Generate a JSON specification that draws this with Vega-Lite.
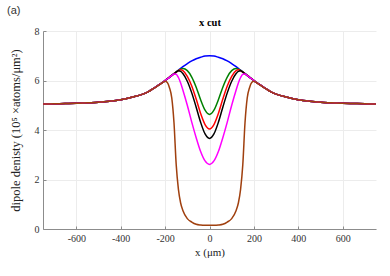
{
  "$schema": "https://vega.github.io/schema/vega-lite/v6.json",
  "width": 333,
  "height": 198,
  "autosize": {"type": "none"},
  "padding": {"left": 43, "top": 31, "right": 14, "bottom": 47},
  "background": "white",
  "title": {"text": "(a)", "anchor": "start", "frame": "group", "dx": -36, "offset": 1, "font": "Liberation Sans", "fontSize": 11, "fontWeight": "normal", "color": "#333333"},
  "config": {
    "view": {"stroke": null},
    "axis": {"labelFont": "Liberation Serif", "titleFont": "Liberation Serif", "labelFontSize": 10, "labelColor": "#333333", "titleColor": "#222222", "domainColor": "#8c8c8c", "tickColor": "#8c8c8c", "gridColor": "#ececec", "gridWidth": 1}
  },
  "data": {"values": [
    {"x": -750, "blue": 5.05, "green": 5.05, "red": 5.05, "black": 5.05, "magenta": 5.05, "brown": 5.05},
    {"x": -700, "blue": 5.06, "green": 5.06, "red": 5.06, "black": 5.06, "magenta": 5.06, "brown": 5.06},
    {"x": -650, "blue": 5.07, "green": 5.07, "red": 5.07, "black": 5.07, "magenta": 5.07, "brown": 5.07},
    {"x": -600, "blue": 5.08, "green": 5.08, "red": 5.08, "black": 5.08, "magenta": 5.08, "brown": 5.08},
    {"x": -550, "blue": 5.10, "green": 5.10, "red": 5.10, "black": 5.10, "magenta": 5.10, "brown": 5.10},
    {"x": -500, "blue": 5.12, "green": 5.12, "red": 5.12, "black": 5.12, "magenta": 5.12, "brown": 5.12},
    {"x": -450, "blue": 5.16, "green": 5.16, "red": 5.16, "black": 5.16, "magenta": 5.16, "brown": 5.16},
    {"x": -400, "blue": 5.22, "green": 5.22, "red": 5.22, "black": 5.22, "magenta": 5.22, "brown": 5.22},
    {"x": -350, "blue": 5.32, "green": 5.32, "red": 5.32, "black": 5.32, "magenta": 5.32, "brown": 5.32},
    {"x": -300, "blue": 5.45, "green": 5.45, "red": 5.45, "black": 5.45, "magenta": 5.45, "brown": 5.45},
    {"x": -275, "blue": 5.55, "green": 5.55, "red": 5.55, "black": 5.55, "magenta": 5.55, "brown": 5.55},
    {"x": -250, "blue": 5.69, "green": 5.69, "red": 5.69, "black": 5.69, "magenta": 5.69, "brown": 5.69},
    {"x": -225, "blue": 5.84, "green": 5.84, "red": 5.84, "black": 5.84, "magenta": 5.84, "brown": 5.83},
    {"x": -210, "blue": 5.93, "green": 5.93, "red": 5.93, "black": 5.93, "magenta": 5.93, "brown": 5.92},
    {"x": -200, "blue": 6.00, "green": 6.00, "red": 6.00, "black": 6.00, "magenta": 6.00, "brown": 5.97},
    {"x": -190, "blue": 6.07, "green": 6.07, "red": 6.07, "black": 6.07, "magenta": 6.07, "brown": 5.92},
    {"x": -180, "blue": 6.14, "green": 6.14, "red": 6.14, "black": 6.13, "magenta": 6.13, "brown": 5.70},
    {"x": -170, "blue": 6.21, "green": 6.21, "red": 6.21, "black": 6.20, "magenta": 6.20, "brown": 5.30},
    {"x": -160, "blue": 6.28, "green": 6.28, "red": 6.27, "black": 6.27, "magenta": 6.26, "brown": 4.30},
    {"x": -150, "blue": 6.35, "green": 6.35, "red": 6.34, "black": 6.34, "magenta": 6.25, "brown": 2.60},
    {"x": -140, "blue": 6.42, "green": 6.41, "red": 6.40, "black": 6.39, "magenta": 6.12, "brown": 1.60},
    {"x": -130, "blue": 6.49, "green": 6.46, "red": 6.43, "black": 6.37, "magenta": 5.90, "brown": 1.05},
    {"x": -120, "blue": 6.56, "green": 6.48, "red": 6.40, "black": 6.28, "magenta": 5.62, "brown": 0.75},
    {"x": -100, "blue": 6.68, "green": 6.40, "red": 6.17, "black": 5.97, "magenta": 5.00, "brown": 0.42},
    {"x": -80, "blue": 6.79, "green": 6.14, "red": 5.78, "black": 5.50, "magenta": 4.32, "brown": 0.28},
    {"x": -60, "blue": 6.88, "green": 5.73, "red": 5.25, "black": 4.92, "magenta": 3.69, "brown": 0.19},
    {"x": -40, "blue": 6.94, "green": 5.22, "red": 4.67, "black": 4.31, "magenta": 3.13, "brown": 0.16},
    {"x": -20, "blue": 6.99, "green": 4.80, "red": 4.22, "black": 3.84, "magenta": 2.75, "brown": 0.15},
    {"x": 0, "blue": 7.00, "green": 4.63, "red": 4.04, "black": 3.66, "magenta": 2.61, "brown": 0.15},
    {"x": 20, "blue": 6.99, "green": 4.80, "red": 4.22, "black": 3.84, "magenta": 2.75, "brown": 0.15},
    {"x": 40, "blue": 6.94, "green": 5.22, "red": 4.67, "black": 4.31, "magenta": 3.13, "brown": 0.16},
    {"x": 60, "blue": 6.88, "green": 5.73, "red": 5.25, "black": 4.92, "magenta": 3.69, "brown": 0.19},
    {"x": 80, "blue": 6.79, "green": 6.14, "red": 5.78, "black": 5.50, "magenta": 4.32, "brown": 0.28},
    {"x": 100, "blue": 6.68, "green": 6.40, "red": 6.17, "black": 5.97, "magenta": 5.00, "brown": 0.42},
    {"x": 120, "blue": 6.56, "green": 6.48, "red": 6.40, "black": 6.28, "magenta": 5.62, "brown": 0.75},
    {"x": 130, "blue": 6.49, "green": 6.46, "red": 6.43, "black": 6.37, "magenta": 5.90, "brown": 1.05},
    {"x": 140, "blue": 6.42, "green": 6.41, "red": 6.40, "black": 6.39, "magenta": 6.12, "brown": 1.60},
    {"x": 150, "blue": 6.35, "green": 6.35, "red": 6.34, "black": 6.34, "magenta": 6.25, "brown": 2.60},
    {"x": 160, "blue": 6.28, "green": 6.28, "red": 6.27, "black": 6.27, "magenta": 6.26, "brown": 4.30},
    {"x": 170, "blue": 6.21, "green": 6.21, "red": 6.21, "black": 6.20, "magenta": 6.20, "brown": 5.30},
    {"x": 180, "blue": 6.14, "green": 6.14, "red": 6.14, "black": 6.13, "magenta": 6.13, "brown": 5.70},
    {"x": 190, "blue": 6.07, "green": 6.07, "red": 6.07, "black": 6.07, "magenta": 6.07, "brown": 5.92},
    {"x": 200, "blue": 6.00, "green": 6.00, "red": 6.00, "black": 6.00, "magenta": 6.00, "brown": 5.97},
    {"x": 210, "blue": 5.93, "green": 5.93, "red": 5.93, "black": 5.93, "magenta": 5.93, "brown": 5.92},
    {"x": 225, "blue": 5.84, "green": 5.84, "red": 5.84, "black": 5.84, "magenta": 5.84, "brown": 5.83},
    {"x": 250, "blue": 5.69, "green": 5.69, "red": 5.69, "black": 5.69, "magenta": 5.69, "brown": 5.69},
    {"x": 275, "blue": 5.55, "green": 5.55, "red": 5.55, "black": 5.55, "magenta": 5.55, "brown": 5.55},
    {"x": 300, "blue": 5.45, "green": 5.45, "red": 5.45, "black": 5.45, "magenta": 5.45, "brown": 5.45},
    {"x": 350, "blue": 5.32, "green": 5.32, "red": 5.32, "black": 5.32, "magenta": 5.32, "brown": 5.32},
    {"x": 400, "blue": 5.22, "green": 5.22, "red": 5.22, "black": 5.22, "magenta": 5.22, "brown": 5.22},
    {"x": 450, "blue": 5.16, "green": 5.16, "red": 5.16, "black": 5.16, "magenta": 5.16, "brown": 5.16},
    {"x": 500, "blue": 5.12, "green": 5.12, "red": 5.12, "black": 5.12, "magenta": 5.12, "brown": 5.12},
    {"x": 550, "blue": 5.10, "green": 5.10, "red": 5.10, "black": 5.10, "magenta": 5.10, "brown": 5.10},
    {"x": 600, "blue": 5.08, "green": 5.08, "red": 5.08, "black": 5.08, "magenta": 5.08, "brown": 5.08},
    {"x": 650, "blue": 5.07, "green": 5.07, "red": 5.07, "black": 5.07, "magenta": 5.07, "brown": 5.07},
    {"x": 700, "blue": 5.06, "green": 5.06, "red": 5.06, "black": 5.06, "magenta": 5.06, "brown": 5.06},
    {"x": 750, "blue": 5.05, "green": 5.05, "red": 5.05, "black": 5.05, "magenta": 5.05, "brown": 5.05}
  ]},
  "transform": [{"fold": ["blue", "green", "red", "black", "magenta", "brown"], "as": ["s", "v"]}],
  "resolve": {"axis": {"x": "independent"}},
  "layer": [
    {
      "layer": [
        {
          "transform": [{"filter": "datum.s !== 'brown'"}],
          "mark": {"type": "line", "interpolate": "monotone", "strokeWidth": 1.5},
          "encoding": {
            "x": {"field": "x", "type": "quantitative", "scale": {"domain": [-750, 750], "nice": false},
              "axis": {"values": [-600, -400, -200, 0, 200, 400, 600], "labelExpr": "replace(datum.label, '−', '-')", "title": "x (μm)", "titleFontSize": 11, "titleFontWeight": "normal", "tickSize": -3, "labelPadding": 7, "titlePadding": 3, "grid": true}},
            "y": {"field": "v", "type": "quantitative", "scale": {"domain": [0, 8], "nice": false},
              "axis": {"values": [0, 1, 2, 3, 4, 5, 6, 7, 8], "title": "dipole denisty (10⁵ ×atoms/μm²)", "titleFontSize": 12.5, "titleFontWeight": "normal", "tickSize": -3, "labelPadding": 7, "titlePadding": 12, "grid": true}},
            "color": {"field": "s", "type": "nominal", "legend": null,
              "scale": {"domain": ["blue", "green", "red", "black", "magenta", "brown"], "range": ["#0000ff", "#008000", "#ff0000", "#000000", "#ff00ff", "#a0400f"]}}
          }
        },
        {
          "transform": [{"filter": "datum.s === 'brown'"}],
          "mark": {"type": "line", "interpolate": "monotone", "strokeWidth": 1.5},
          "encoding": {
            "x": {"field": "x", "type": "quantitative"},
            "y": {"field": "v", "type": "quantitative"},
            "color": {"field": "s", "type": "nominal", "legend": null}
          }
        }
      ]
    },
    {
      "mark": {"type": "point", "opacity": 0},
      "encoding": {
        "x": {"field": "x", "type": "quantitative", "scale": {"domain": [-750, 750], "nice": false},
          "axis": {"orient": "top", "title": "x cut", "titleFontSize": 10.5, "titleFontWeight": "bold", "titleColor": "#000000", "labels": false, "ticks": false, "domain": false, "grid": false, "titlePadding": 4}}
      }
    }
  ]
}
